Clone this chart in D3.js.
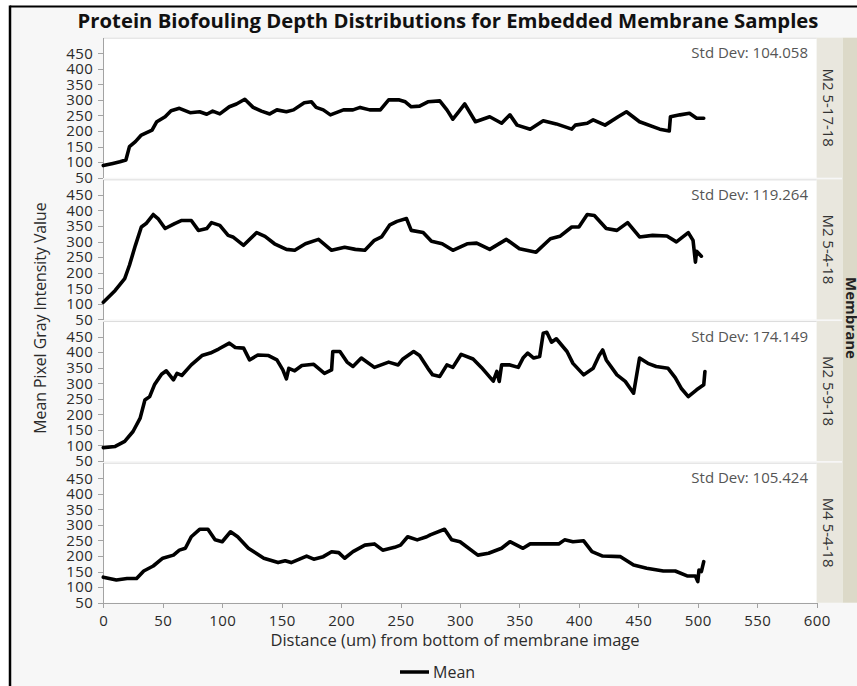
<!DOCTYPE html>
<meta charset="utf-8">
<style>
body { margin: 0; background: #fff; }
text { font-family: "Open Sans", sans-serif; fill: #222; }
.axis text { font-size: 15px; fill: #2b2b2b; letter-spacing: 0.4px; }
.axis path, .axis line { stroke: #a3a3a3; shape-rendering: crispEdges; }
.trace { fill: none; stroke: #000; stroke-width: 3.6; stroke-linejoin: round; stroke-linecap: round; }
</style>
<svg class="chart"></svg>
<script src="https://d3js.org/d3.v7.min.js"></script>
<script>

// membrane samples, one panel each (top to bottom)
var membranes = ["M2 5-17-18", "M2 5-4-18", "M2 5-9-18", "M4 5-4-18"];
var stdDevs = ["104.058", "119.264", "174.149", "105.424"];

// [distance (um), mean pixel gray intensity]
var m2_5_17_18 = [[0,89],[8,96],[14,101],[19,107],[22,150],[27,166],[32,187],[41,203],[45,230],[52,246],[57,265],[64,273],[73,259],[81,262],[87,254],[92,264],[98,255],[106,278],[112,287],[119,302],[126,276],[133,264],[140,255],[146,268],[154,262],[160,268],[169,291],[175,294],[179,276],[185,268],[191,252],[202,268],[210,268],[216,276],[224,268],[233,268],[240,300],[249,300],[254,294],[259,278],[266,280],[273,294],[283,297],[289,268],[294,238],[299,262],[304,287],[313,230],[325,246],[335,225],[342,252],[348,219],[359,206],[370,233],[381,223],[394,206],[397,219],[407,225],[412,236],[422,219],[433,246],[440,262],[451,230],[468,206],[476,200],[477,246],[485,252],[493,257],[499,241],[505,241]];

var m2_5_4_18 = [[0,105],[10,143],[18,181],[22,224],[27,288],[32,347],[36,358],[42,387],[46,374],[52,342],[60,358],[66,368],[74,368],[80,336],[87,342],[91,361],[98,352],[105,320],[109,315],[118,288],[129,329],[136,317],[144,293],[154,275],[161,272],[170,293],[181,307],[192,272],[203,282],[212,275],[220,272],[228,304],[234,315],[241,354],[247,365],[255,374],[259,336],[269,329],[276,301],[285,293],[294,272],[306,293],[314,295],[325,275],[339,307],[350,277],[364,266],[376,309],[384,317],[394,347],[400,347],[407,387],[413,384],[423,342],[432,336],[441,361],[451,315],[462,320],[474,318],[482,299],[492,329],[496,304],[498,234],[499,269],[503,253]];

var m2_5_9_18 = [[0,93],[10,97],[18,113],[25,145],[31,188],[35,246],[39,257],[43,295],[49,329],[53,340],[59,311],[62,332],[66,325],[74,359],[83,389],[90,397],[97,410],[106,429],[111,415],[118,413],[123,375],[130,391],[139,389],[146,375],[151,343],[154,314],[156,348],[161,340],[167,357],[177,361],[186,332],[192,343],[193,402],[199,402],[205,368],[210,354],[217,381],[228,351],[240,368],[248,359],[252,378],[261,402],[266,389],[273,348],[277,327],[283,322],[289,359],[294,351],[301,393],[311,378],[318,351],[328,307],[331,338],[333,306],[335,359],[342,359],[349,351],[353,381],[357,397],[362,381],[367,386],[370,461],[373,464],[377,432],[381,443],[390,402],[395,364],[404,327],[412,348],[417,389],[420,407],[423,375],[432,327],[439,306],[446,268],[451,381],[458,364],[465,354],[475,348],[481,318],[486,284],[492,257],[499,279],[505,295],[506,338]];

var m4_5_4_18 = [[0,132],[11,123],[20,128],[28,128],[34,152],[42,168],[50,193],[59,203],[64,219],[69,225],[74,262],[81,286],[88,286],[94,252],[100,246],[107,278],[113,262],[122,225],[135,193],[147,179],[153,185],[158,179],[165,190],[171,200],[177,190],[185,198],[192,214],[198,211],[203,193],[210,214],[220,235],[228,239],[235,219],[245,228],[250,235],[256,262],[264,252],[272,262],[275,268],[287,286],[293,252],[300,246],[315,203],[324,209],[335,225],[342,246],[353,225],[359,239],[373,239],[383,239],[388,252],[395,246],[404,249],[411,214],[420,200],[435,198],[446,171],[457,161],[471,152],[481,152],[491,136],[498,136],[500,118],[501,155],[503,150],[505,182]];

var series = [m2_5_17_18, m2_5_4_18, m2_5_9_18, m4_5_4_18];

var yTicks = [50, 100, 150, 200, 250, 300, 350, 400, 450];
var xTicks = [0, 50, 100, 150, 200, 250, 300, 350, 400, 450, 500, 550, 600];

var width = 857, height = 686;
var plot = {left: 103.3, right: 816.7, top: 37.7};
var panelH = 140, panelStep = 141.67;
var plotBottom = plot.top + 3 * panelStep + panelH;

var svg = d3.select(".chart")
    .attr("width", width)
    .attr("height", height);

// frame
svg.append("rect").attr("x", 10).attr("y", 6).attr("width", width - 10).attr("height", height - 6)
    .attr("fill", "#f7f7f7");
svg.append("line").attr("x1", 10).attr("x2", 10).attr("y1", 5.5).attr("y2", height)
    .attr("stroke", "#000").attr("stroke-width", 2.5);
svg.append("line").attr("x1", 10).attr("x2", width).attr("y1", 6.5).attr("y2", 6.5)
    .attr("stroke", "#000").attr("stroke-width", 2);

svg.append("text")
    .attr("x", 448).attr("y", 28)
    .attr("text-anchor", "middle")
    .style("font-size", "20.3px").style("font-weight", "bold").style("fill", "#111")
    .text("Protein Biofouling Depth Distributions for Embedded Membrane Samples");

var x = d3.scaleLinear().domain([0, 600]).range([plot.left, plot.right]);
var y = d3.scaleLinear().domain([50, 500]).range([panelH, 0]);

var line = d3.line()
    .x(function (d) { return x(d[0]); })
    .y(function (d) { return y(d[1]); });

// outer "Membrane" strip
svg.append("rect")
    .attr("x", 842.5).attr("y", plot.top)
    .attr("width", width - 842.5).attr("height", plotBottom - plot.top)
    .attr("fill", "#dcd9c8");
svg.append("text")
    .attr("transform", "translate(845.5,318) rotate(90)")
    .attr("text-anchor", "middle")
    .style("font-size", "15px").style("font-weight", "bold")
    .text("Membrane");

var panel = svg.selectAll("g.panel")
    .data(membranes)
    .enter().append("g")
    .attr("class", "panel")
    .attr("transform", function (d, i) { return "translate(0," + (plot.top + i * panelStep) + ")"; });

panel.append("rect")
    .attr("x", plot.left).attr("width", plot.right - plot.left)
    .attr("height", panelH)
    .attr("fill", "#fff");

panel.append("line")
    .attr("x1", plot.left).attr("x2", plot.right)
    .attr("y1", 0.5).attr("y2", 0.5)
    .attr("stroke", "#dcdcdc");

// strip with membrane name
panel.append("rect")
    .attr("x", plot.right).attr("width", 842.5 - plot.right)
    .attr("height", panelH)
    .attr("fill", "#e9e7de");
panel.append("text")
    .attr("transform", "translate(822.5," + (panelH / 2) + ") rotate(90)")
    .attr("text-anchor", "middle")
    .style("font-size", "15px").style("fill", "#333")
    .text(function (d) { return d; });

panel.append("text")
    .attr("x", 808).attr("y", 20.5)
    .attr("text-anchor", "end")
    .style("font-size", "15px").style("fill", "#555")
    .text(function (d, i) { return "Std Dev: " + stdDevs[i]; });

panel.append("g")
    .attr("class", "axis")
    .attr("transform", "translate(" + plot.left + ",0)")
    .each(function () {
      d3.select(this).call(d3.axisLeft(y).tickValues(yTicks).tickSize(5).tickSizeOuter(0).tickPadding(5));
    });

panel.append("path")
    .attr("class", "trace")
    .attr("d", function (d, i) { return line(series[i]); });

// x axis
svg.append("g")
    .attr("class", "axis")
    .attr("transform", "translate(0," + plotBottom + ")")
    .call(d3.axisBottom(x).tickValues(xTicks).tickSize(5).tickSizeOuter(0).tickPadding(8));

svg.append("text")
    .attr("x", 455).attr("y", 646)
    .attr("text-anchor", "middle")
    .style("font-size", "16.5px").style("fill", "#2b2b2b")
    .text("Distance (um) from bottom of membrane image");

svg.append("text")
    .attr("transform", "translate(46,318) rotate(-90)")
    .attr("text-anchor", "middle")
    .style("font-size", "15.8px").style("fill", "#2b2b2b")
    .text("Mean Pixel Gray Intensity Value");

// legend
svg.append("line")
    .attr("x1", 400).attr("x2", 429).attr("y1", 672).attr("y2", 672)
    .attr("stroke", "#000").attr("stroke-width", 3.5);
svg.append("text")
    .attr("x", 433).attr("y", 678)
    .style("font-size", "16px").style("fill", "#2b2b2b")
    .text("Mean");

</script>
